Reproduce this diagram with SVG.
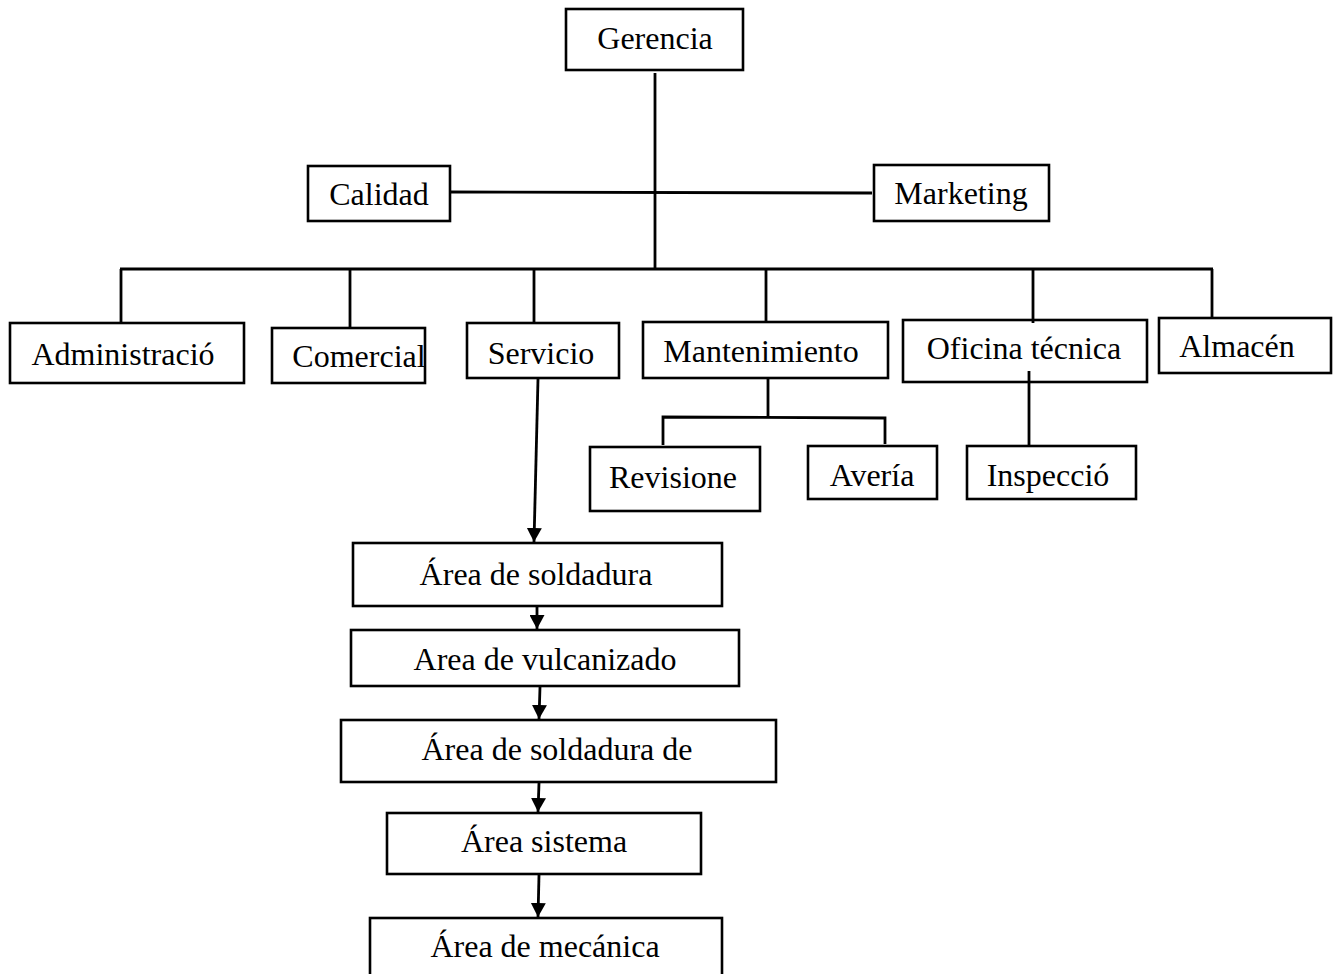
<svg xmlns="http://www.w3.org/2000/svg" width="1335" height="974" viewBox="0 0 1335 974">
<defs>
<style>
.box{fill:#fff;stroke:#000;stroke-width:2.6}
.t{font-family:"Liberation Serif","Times New Roman",serif;font-size:32px;fill:#000;text-anchor:middle}
.ln{stroke:#000;stroke-width:2.8;fill:none}
</style>
<marker id="ah" viewBox="0 0 14 15" refX="14" refY="7.5" markerWidth="14" markerHeight="15" markerUnits="userSpaceOnUse" orient="auto">
<path d="M0,0 L14,7.5 L0,15 Z" fill="#000"/>
</marker>
</defs>
<rect width="1335" height="974" fill="#fff"/>
<g id="gerencia"><rect class="box" x="566" y="9" width="177" height="61"/><text class="t" x="655" y="49">Gerencia</text></g>
<g id="calidad"><rect class="box" x="308" y="166" width="142" height="55"/><text class="t" x="379" y="205">Calidad</text></g>
<g id="marketing"><rect class="box" x="874" y="165" width="175" height="56"/><text class="t" x="961" y="204">Marketing</text></g>
<g id="administracion"><rect class="box" x="10" y="323" width="234" height="60"/><text class="t" x="123" y="365">Administració</text></g>
<g id="comercial"><rect class="box" x="272" y="328" width="153" height="55"/><text class="t" x="359" y="367">Comercial</text></g>
<g id="servicio"><rect class="box" x="467" y="323" width="152" height="55"/><text class="t" x="541" y="364">Servicio</text></g>
<g id="mantenimiento"><rect class="box" x="643" y="322" width="245" height="56"/><text class="t" x="761" y="362">Mantenimiento</text></g>
<g id="oficina"><rect class="box" x="903" y="320" width="244" height="62"/><text class="t" x="1024" y="359">Oficina técnica</text></g>
<g id="almacen"><rect class="box" x="1159" y="318" width="172" height="55"/><text class="t" x="1237" y="357">Almacén</text></g>
<g id="revisiones"><rect class="box" x="590" y="447" width="170" height="64"/><text class="t" x="673" y="488">Revisione</text></g>
<g id="averia"><rect class="box" x="808" y="446" width="129" height="53"/><text class="t" x="872" y="486">Avería</text></g>
<g id="inspeccion"><rect class="box" x="967" y="446" width="169" height="53"/><text class="t" x="1048" y="486">Inspecció</text></g>
<g id="soldadura"><rect class="box" x="353" y="543" width="369" height="63"/><text class="t" x="536" y="585">Área de soldadura</text></g>
<g id="vulcanizado"><rect class="box" x="351" y="630" width="388" height="56"/><text class="t" x="545" y="670">Area de vulcanizado</text></g>
<g id="soldadura2"><rect class="box" x="341" y="720" width="435" height="62"/><text class="t" x="557" y="760">Área de soldadura de</text></g>
<g id="sistema"><rect class="box" x="387" y="813" width="314" height="61"/><text class="t" x="544" y="852">Área sistema</text></g>
<g id="mecanica"><rect class="box" x="370" y="918" width="352" height="70"/><text class="t" x="545" y="957">Área de mecánica</text></g>
<g id="connectors">
<line class="ln" x1="655" y1="73" x2="655" y2="269"/>
<line class="ln" x1="450" y1="192" x2="872" y2="193"/>
<line class="ln" x1="120" y1="269" x2="1213" y2="269"/>
<line class="ln" x1="121" y1="269" x2="121" y2="322"/>
<line class="ln" x1="350" y1="269" x2="350" y2="327"/>
<line class="ln" x1="534" y1="269" x2="534" y2="322"/>
<line class="ln" x1="766" y1="269" x2="766" y2="321"/>
<line class="ln" x1="1033" y1="269" x2="1033" y2="323"/>
<line class="ln" x1="1212" y1="269" x2="1212" y2="317"/>
<line class="ln" x1="768" y1="379" x2="768" y2="417"/>
<polyline class="ln" points="663,445 663,417 885,418 885,444"/>
<line class="ln" x1="1029" y1="371" x2="1029" y2="445"/>
<line class="ln" x1="538" y1="379" x2="534" y2="542" marker-end="url(#ah)"/>
<line class="ln" x1="537" y1="607" x2="537" y2="629" marker-end="url(#ah)"/>
<line class="ln" x1="540" y1="687" x2="539" y2="719" marker-end="url(#ah)"/>
<line class="ln" x1="539" y1="783" x2="538" y2="812" marker-end="url(#ah)"/>
<line class="ln" x1="539" y1="875" x2="538" y2="917" marker-end="url(#ah)"/>
</g>
</svg>
